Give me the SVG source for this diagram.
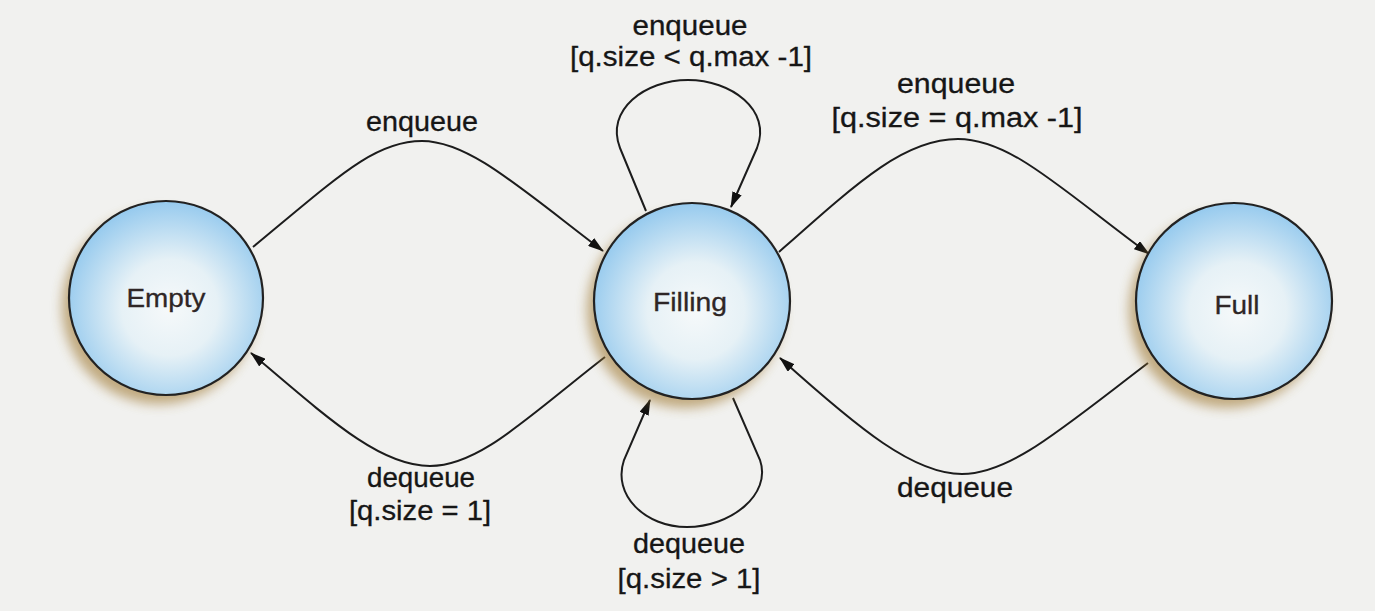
<svg xmlns="http://www.w3.org/2000/svg" width="1375" height="611" viewBox="0 0 1375 611">
<style>
.lbl{font-family:"Liberation Sans",Arial,sans-serif;font-size:27px;fill:#161616;stroke:#161616;stroke-width:0.3;text-anchor:middle}
.nt{font-family:"Liberation Sans",Arial,sans-serif;font-size:25px;fill:#2e2626;stroke:#2e2626;stroke-width:0.3;text-anchor:middle}
.st{fill:url(#g);stroke:#222;stroke-width:2.2}
.sh{fill:#a07a34;opacity:0.6;filter:url(#blur)}
.cn{fill:none;stroke:#1c1c1c;stroke-width:2;marker-end:url(#ah)}
</style>
<defs>
<radialGradient id="g" cx="0.52" cy="0.55" r="0.55">
<stop offset="0" stop-color="#f6f9fa"/>
<stop offset="0.45" stop-color="#e6f1f6"/>
<stop offset="1" stop-color="#96caee"/>
</radialGradient>
<filter id="blur" x="-30%" y="-30%" width="160%" height="160%"><feGaussianBlur stdDeviation="6"/></filter>
<marker id="ah" viewBox="0 0 16 10" refX="15" refY="5" markerWidth="16" markerHeight="10" markerUnits="userSpaceOnUse" orient="auto">
<path d="M0,0 L16,5 L0,10 Z" fill="#111"/>
</marker>
</defs>
<rect width="1375" height="611" fill="#f1f1ef"/>
<g id="connectors">
<path class="cn" d="M253,247 C340,175 375,141 422,141 S520,188 603,251"/>
<path class="cn" d="M779,252 C860,180 905,139 958,139 S1062,190 1149,254"/>
<path class="cn" d="M1148,363 C1060,430 1010,474 962,474 S860,430 780,358"/>
<path class="cn" d="M605,357 C530,415 480,466 430,466 S330,420 251,353"/>
<path class="cn" d="M646,211 L620,148 C605,110 645,80 688,80 C731,80 772,110 757,148 L731,207"/>
<path class="cn" d="M733,398 L760,460 C772,495 730,527 687,527 C645,527 612,495 624,460 L650,400"/>
</g>
<g id="empty">
<circle class="sh" cx="159" cy="307" r="97"/>
<circle class="st" cx="166" cy="298" r="97"/>
<text class="nt" x="166" y="307" textLength="79" lengthAdjust="spacingAndGlyphs">Empty</text>
</g>
<g id="filling">
<circle class="sh" cx="685" cy="310" r="98"/>
<circle class="st" cx="692" cy="301" r="98"/>
<text class="nt" x="690" y="311" textLength="74" lengthAdjust="spacingAndGlyphs">Filling</text>
</g>
<g id="full">
<circle class="sh" cx="1227" cy="310" r="98"/>
<circle class="st" cx="1234" cy="301" r="98"/>
<text class="nt" x="1237" y="314" textLength="45" lengthAdjust="spacingAndGlyphs">Full</text>
</g>
<g id="labels">
<text class="lbl" x="690" y="35" textLength="115" lengthAdjust="spacingAndGlyphs">enqueue</text>
<text class="lbl" x="691" y="66" textLength="242" lengthAdjust="spacingAndGlyphs">[q.size &lt; q.max -1]</text>
<text class="lbl" x="422" y="131" textLength="112" lengthAdjust="spacingAndGlyphs">enqueue</text>
<text class="lbl" x="956" y="93" textLength="118" lengthAdjust="spacingAndGlyphs">enqueue</text>
<text class="lbl" x="957" y="127" textLength="251" lengthAdjust="spacingAndGlyphs">[q.size = q.max -1]</text>
<text class="lbl" x="421" y="487" textLength="108" lengthAdjust="spacingAndGlyphs">dequeue</text>
<text class="lbl" x="420" y="520" textLength="142" lengthAdjust="spacingAndGlyphs">[q.size = 1]</text>
<text class="lbl" x="955" y="497" textLength="116" lengthAdjust="spacingAndGlyphs">dequeue</text>
<text class="lbl" x="689" y="553" textLength="112" lengthAdjust="spacingAndGlyphs">dequeue</text>
<text class="lbl" x="689" y="588" textLength="143" lengthAdjust="spacingAndGlyphs">[q.size &gt; 1]</text>
</g>
</svg>
